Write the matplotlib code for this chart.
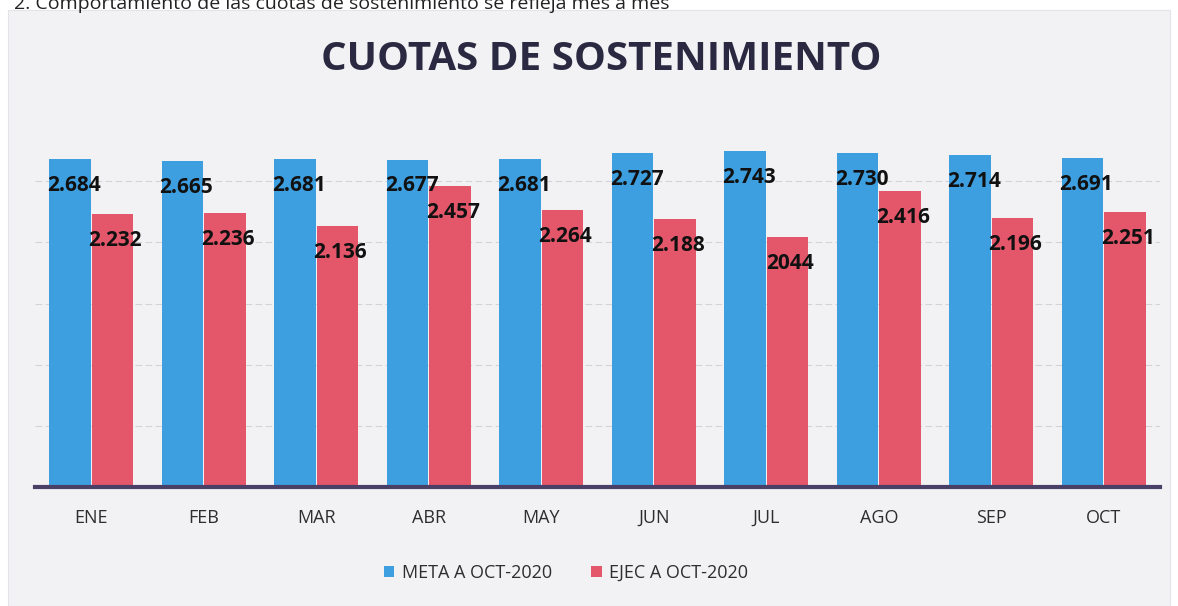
import matplotlib.pyplot as plt
import numpy as np
from matplotlib.patches import Rectangle

meses = ["ENE", "FEB", "MAR", "ABR", "MAY", "JUN", "JUL", "AGO", "SEP", "OCT"]
meta = [2684, 2665, 2681, 2677, 2681, 2727, 2743, 2730, 2714, 2691]
ejec = [2232, 2236, 2136, 2457, 2264, 2188, 2044, 2416, 2196, 2251]
etiquetas_meta = ["2.684", "2.665", "2.681", "2.677", "2.681", "2.727", "2.743", "2.730", "2.714", "2.691"]
etiquetas_ejec = ["2.232", "2.236", "2.136", "2.457", "2.264", "2.188", "2044", "2.416", "2.196", "2.251"]

azul = "#3d9fe0"
rojo = "#e4566a"
fuente = "Open Sans"

fig = plt.figure(figsize=(11.78, 6.06), dpi=100, facecolor="white")
fig.patches.append(Rectangle((8 / 1178, 0), 1162 / 1178, 1 - 10 / 606,
                             transform=fig.transFigure, facecolor="#f2f2f4",
                             edgecolor="#e4e4e8", linewidth=0.8, zorder=-5))

fig.text(0.012, 0.994, "2. Comportamiento de las cuotas de sostenimiento se refleja mes a mes",
         ha="left", va="center", fontsize=14, family=fuente, color="#222222")

ax = fig.add_axes([35 / 1178, 1 - 487 / 606, 1125 / 1178, 367 / 606])
ax.set_zorder(2)
ax.set_facecolor("none")

x = np.arange(len(meses))
paso = 0.19
ancho = 0.37
ax.bar(x - paso, meta, ancho, color=azul, label="META A OCT-2020", zorder=2)
ax.bar(x + paso, ejec, ancho, color=rojo, label="EJEC A OCT-2020", zorder=2)

for i in range(len(meses)):
    ax.annotate(etiquetas_meta[i], (x[i] - paso, meta[i]), xytext=(3, -19),
                textcoords="offset points", ha="center", va="center",
                fontsize=15, fontweight="bold", family=fuente, color="#111111", zorder=3)
    ax.annotate(etiquetas_ejec[i], (x[i] + paso, ejec[i]), xytext=(2, -19),
                textcoords="offset points", ha="center", va="center",
                fontsize=15, fontweight="bold", family=fuente, color="#111111", zorder=3)

ax.set_xlim(-0.5, len(meses) - 0.5)
ax.set_ylim(0, 3000)
ax.set_yticks([500, 1000, 1500, 2000, 2500])
ax.yaxis.grid(True, color="#d4d4d8", linewidth=0.8, linestyle=(0, (6, 3)), zorder=1)
ax.tick_params(axis="y", left=False, labelleft=False)
ax.set_xticks(x)
ax.set_xticklabels(meses, fontsize=13, family=fuente, color="#2e2e2e")
ax.tick_params(axis="x", length=0, pad=16)
for lado in ["top", "right", "left"]:
    ax.spines[lado].set_visible(False)
ax.spines["bottom"].set_color("#4a3f66")
ax.spines["bottom"].set_linewidth(3)

fig.text(601 / 1178, 1 - 60 / 606, "CUOTAS DE SOSTENIMIENTO", ha="center", va="center",
         fontsize=29, fontweight="bold", family=fuente, color="#2b2942")

fig.legend(loc="center", bbox_to_anchor=(566 / 1178, 1 - 573 / 606), ncol=2, frameon=False,
           prop={"family": fuente, "size": 13}, handlelength=0.6, handleheight=0.6,
           handletextpad=0.4, columnspacing=2.2, labelcolor="#2e2e2e")

fig.savefig("out.png", dpi=100, facecolor="white")
